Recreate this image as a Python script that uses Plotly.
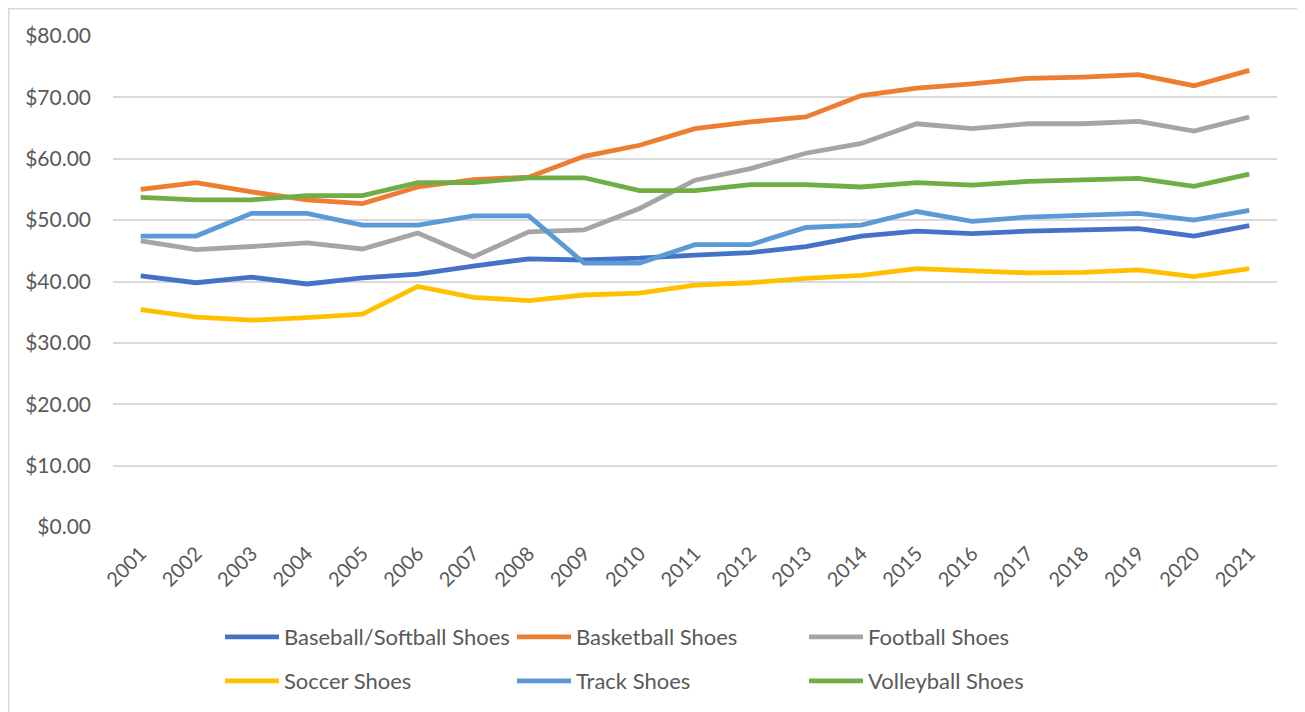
import plotly.graph_objects as go

years = [str(y) for y in range(2001, 2022)]

baseball = [40.9, 39.8, 40.7, 39.6, 40.6, 41.2, 42.5, 43.7, 43.5, 43.8, 44.3,
            44.7, 45.7, 47.4, 48.2, 47.8, 48.2, 48.4, 48.6, 47.4, 49.1]
basketball = [55.0, 56.1, 54.6, 53.3, 52.7, 55.4, 56.6, 57.0, 60.4, 62.2, 64.9,
              66.0, 66.8, 70.3, 71.5, 72.2, 73.1, 73.3, 73.7, 71.9, 74.4]
football = [46.6, 45.2, 45.7, 46.3, 45.3, 47.9, 44.0, 48.1, 48.4, 51.9, 56.5,
            58.4, 60.9, 62.5, 65.7, 64.9, 65.7, 65.7, 66.1, 64.5, 66.8]
soccer = [35.4, 34.2, 33.7, 34.1, 34.7, 39.2, 37.4, 36.9, 37.8, 38.1, 39.4,
          39.8, 40.5, 41.0, 42.1, 41.8, 41.4, 41.5, 41.9, 40.8, 42.1]
track = [47.4, 47.4, 51.1, 51.1, 49.2, 49.2, 50.7, 50.7, 43.0, 43.0, 46.0,
         46.0, 48.8, 49.2, 51.4, 49.8, 50.5, 50.8, 51.1, 50.0, 51.6]
volleyball = [53.7, 53.3, 53.3, 54.0, 54.0, 56.1, 56.1, 56.9, 56.9, 54.8, 54.8,
              55.8, 55.8, 55.4, 56.1, 55.7, 56.3, 56.5, 56.8, 55.5, 57.5]

series = [
    ("Baseball/Softball Shoes", baseball, "#4472C4", "legend"),
    ("Basketball Shoes", basketball, "#ED7D31", "legend"),
    ("Football Shoes", football, "#A5A5A5", "legend"),
    ("Soccer Shoes", soccer, "#FFC000", "legend2"),
    ("Track Shoes", track, "#5B9BD5", "legend2"),
    ("Volleyball Shoes", volleyball, "#70AD47", "legend2"),
]

FONT = "Lato, 'Open Sans', sans-serif"
TXT = "#595959"

fig = go.Figure()
for name, vals, color, lg in series:
    fig.add_trace(go.Scatter(
        x=years, y=vals, name=name, mode="lines",
        line=dict(color=color, width=4.8),
        legend=lg,
    ))

# page body has an 8px margin: screen coordinate = figure coordinate + 8
OFF = 8
W, H = 1305, 712
L = 113 - OFF
T = 36 - OFF
R = W - (1277 - OFF)
B = H - (527 - OFF)
pw = W - L - R
ph = H - T - B

def px_x(x):
    return (x - OFF - L) / pw

def px_y(y):
    return (H - B - (y - OFF)) / ph

legend_common = dict(
    orientation="h",
    font=dict(family=FONT, size=22, color=TXT),
    itemwidth=54,
    entrywidth=223,
    entrywidthmode="pixels",
    xanchor="left",
    yanchor="middle",
    bgcolor="rgba(0,0,0,0)",
    traceorder="normal",
    itemclick=False,
)

fig.update_layout(
    width=W, height=H,
    margin=dict(l=L, r=R, t=T, b=B, autoexpand=False),
    paper_bgcolor="white",
    plot_bgcolor="white",
    font=dict(family=FONT, size=20, color=TXT),
    showlegend=True,
    legend=dict(x=px_x(220), y=px_y(637), **legend_common),
    legend2=dict(x=px_x(220), y=px_y(681), **legend_common),
    xaxis=dict(
        type="category",
        range=[-0.5, 20.5],
        showgrid=False,
        showline=False,
        zeroline=False,
        tickangle=-45,
        tickfont=dict(family=FONT, size=20, color=TXT),
        ticks="",
        ticklabelstandoff=10,
    ),
    yaxis=dict(
        range=[0, 80],
        dtick=10,
        tickformat="$.2f",
        showgrid=True,
        gridcolor="#D9D9D9",
        gridwidth=1.5,
        zeroline=False,
        showline=False,
        tickfont=dict(family=FONT, size=21, color=TXT),
        ticks="",
        ticklabelstandoff=21,
    ),
    shapes=[dict(
        type="rect", xref="paper", yref="paper",
        x0=px_x(8.8), x1=px_x(1340), y0=px_y(760), y1=px_y(8.8),
        line=dict(color="#D9D9D9", width=1.5),
        fillcolor="rgba(0,0,0,0)", layer="below",
    )],
)

fig.write_html("out.html")
